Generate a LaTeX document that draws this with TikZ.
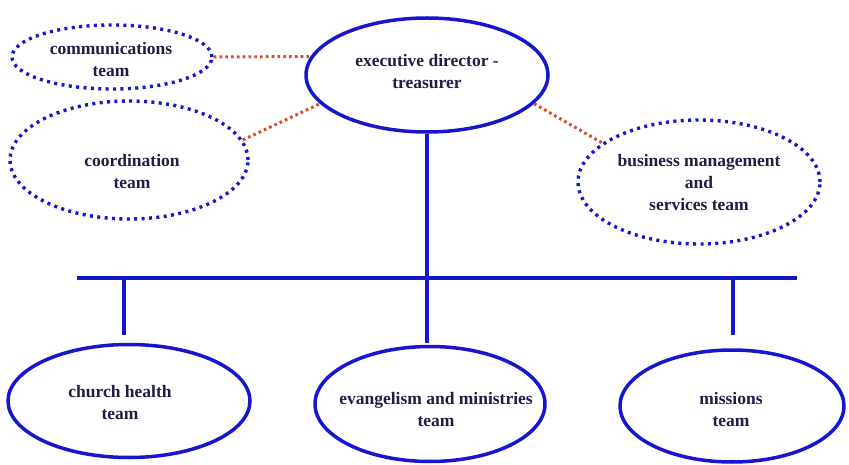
\documentclass[tikz,border=0pt]{standalone}
\usepackage{fontspec}
\setmainfont{Liberation Serif}
\usetikzlibrary{shapes.geometric}
\definecolor{eblue}{RGB}{22,22,205}
\definecolor{ered}{RGB}{225,70,30}
\definecolor{etext}{RGB}{30,30,70}
\tikzset{
  solidell/.style={ellipse, draw=eblue, line width=3.5pt, inner sep=0pt},
  dotell/.style={ellipse, draw=eblue, line width=3.4pt, dash pattern=on 3pt off 4.4pt, inner sep=0pt},
  txt/.style={text=etext, font=\bfseries\fontsize{17.5}{22}\selectfont, align=center, inner sep=0pt},
  redlink/.style={draw=ered, line width=3pt, dash pattern=on 2.6pt off 3.2pt},
  bluelink/.style={draw=eblue, line width=3.5pt},
  busline/.style={draw=eblue, line width=4.5pt}
}
\begin{document}
\begin{tikzpicture}[x=1pt,y=-1pt]
\useasboundingbox (0,0) rectangle (849,465);
% ellipses
\node[dotell, minimum width=200pt, minimum height=64pt] (comm) at (112,57) {};
\node[solidell, minimum width=242pt, minimum height=114pt] (exec) at (427,75) {};
\node[dotell, minimum width=238pt, minimum height=118pt] (coord) at (129,160) {};
\node[dotell, minimum width=242pt, minimum height=124pt] (bus) at (699,182) {};
\node[solidell, minimum width=242pt, minimum height=113pt] (church) at (129,401) {};
\node[solidell, minimum width=230pt, minimum height=115pt] (evan) at (430,404) {};
\node[solidell, minimum width=224pt, minimum height=112pt] (miss) at (732,406) {};
% texts
\node[txt] (commt) at (111,60) {communications\\team};
\node[txt] (exect) at (427,72) {executive director -\\treasurer};
\node[txt] (coordt) at (132,172) {coordination\\team};
\node[txt] (bust) at (699,183) {business management\\and\\services team};
\node[txt] (churcht) at (120,403) {church health\\team};
\node[txt] (evant) at (436,410) {evangelism and ministries\\team};
\node[txt] (misst) at (731,410) {missions\\team};
% red dotted links
\draw[redlink] (comm.east) -- (exec.171);
\draw[redlink] (coord.10) -- (exec.-165);
\draw[redlink] (exec.-15) -- (bus.158);
% tree
\coordinate (busL) at (77,278);
\coordinate (busR) at (797,278);
\coordinate (d1top) at (124,278);
\coordinate (d1bot) at (124,335);
\coordinate (d2bot) at (427,343);
\coordinate (d3top) at (733,278);
\coordinate (d3bot) at (733,335);
\draw[bluelink] (exec.south) -- (exec.south |- busL);
\draw[busline] (busL) -- (busR);
\draw[bluelink] (d1top) -- (d1bot);
\draw[bluelink] (exec.south |- busL) -- (d2bot);
\draw[bluelink] (d3top) -- (d3bot);
\end{tikzpicture}
\end{document}
